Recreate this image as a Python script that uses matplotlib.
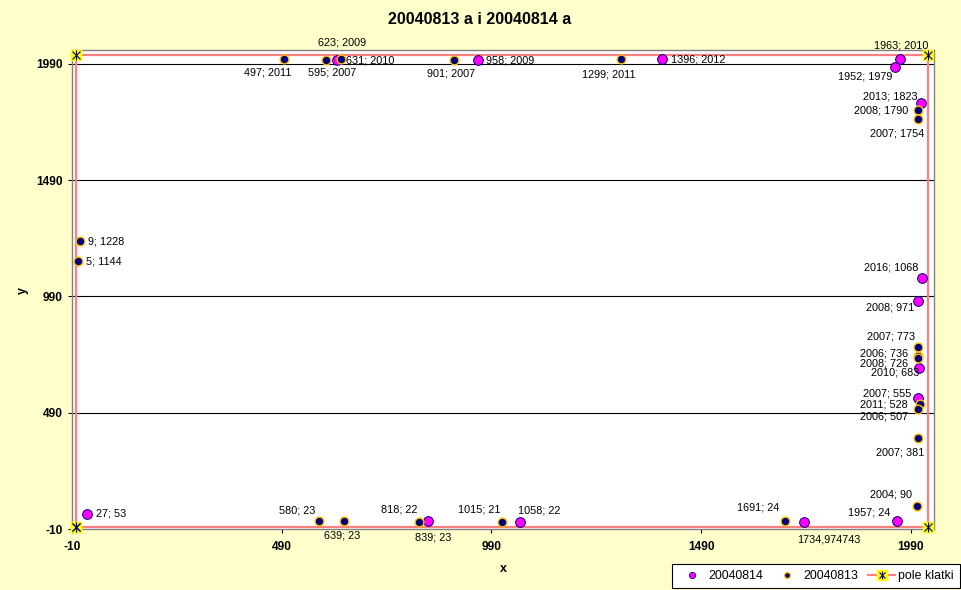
import matplotlib
matplotlib.use("Agg")
import matplotlib.pyplot as plt
from matplotlib.lines import Line2D
from matplotlib.legend_handler import HandlerTuple

plt.rcParams['font.family'] = ['Liberation Sans', 'DejaVu Sans']

# ---------------- data ----------------
title = "20040813 a i 20040814 a"

s14_x = [27, 623, 958, 1396, 1963, 1952, 2013, 2016, 2008, 2010, 2007, 1957, 1734.974743, 1058, 839]
s14_y = [53, 2009, 2009, 2012, 2010, 1979, 1823, 1068, 971, 683, 555, 24, 22, 22, 23]
s14_lbl = ["27; 53", "623; 2009", "958; 2009", "1396; 2012", "1963; 2010", "1952; 1979",
           "2013; 1823", "2016; 1068", "2008; 971", "2010; 683", "2007; 555", "1957; 24",
           "1734,974743", "1058; 22", "839; 23"]
# label offsets (pixels: right, down)
s14_off = [(9, -1), (-19, -17), (8, 1), (9, 1), (-26, -14), (-57, 10),
           (-58, -6), (-58, -11), (-52, 7), (-48, 5), (-55, -4), (-49, -9),
           (-7, 18), (-2, -11), (-13, 16)]

s13_x = [497, 595, 631, 901, 1299, 2008, 2007, 9, 5, 2007, 2006, 2008, 2011, 2006, 2007, 2004,
         580, 639, 818, 1015, 1691]
s13_y = [2011, 2007, 2010, 2007, 2011, 1790, 1754, 1228, 1144, 773, 736, 726, 528, 507, 381, 90,
         23, 23, 22, 21, 24]
s13_lbl = ["497; 2011", "595; 2007", "631; 2010", "901; 2007", "1299; 2011", "2008; 1790",
           "2007; 1754", "9; 1228", "5; 1144", "2007; 773", "2006; 736", "2008; 726",
           "2011; 528", "2006; 507", "2007; 381", "2004; 90", "580; 23", "639; 23",
           "818; 22", "1015; 21", "1691; 24"]
s13_off = [(-40, 13), (-18, 13), (5, 1), (-27, 14), (-39, 15), (-64, 0),
           (-48, 15), (8, 0), (8, 1), (-51, -10), (-58, -2), (-58, 6),
           (-60, 1), (-58, 8), (-42, 14), (-47, -11), (-40, -11), (-20, 14),
           (-38, -12), (-44, -12), (-48, -14)]

frame_x = [0, 0, 2030, 2030, 0]
frame_y = [0, 2030, 2030, 0, 0]

xticks = [-10, 490, 990, 1490, 1990]
yticks = [-10, 490, 990, 1490, 1990]

# ---------------- style ----------------
BG = "#FFFFCC"
MAG = "#FF00FF"
NAVY = "#000080"
ORANGE = "#FFC000"
PINK = "#FF8080"

fig = plt.figure(figsize=(9.61, 5.90), dpi=100, facecolor=BG)
ax = fig.add_axes([71.7 / 961, 61 / 590, (934 - 71.7) / 961, (529 - 50) / 590])
ax.set_facecolor("white")
ax.set_xlim(-10, 2045)
ax.set_ylim(-10, 2050)

ax.set_xticks(xticks)
ax.set_yticks(yticks)
ax.set_xticklabels([str(v) for v in xticks], fontsize=8.6, fontweight='bold')
ax.set_yticklabels([str(v) for v in yticks], fontsize=8.6, fontweight='bold')
ax.tick_params(axis='x', length=3, width=0.8, pad=6, direction='out', color='black')
ax.tick_params(axis='y', length=3, width=0.8, pad=3.5, direction='out', color='black')
for sp in ax.spines.values():
    sp.set_color("#808080")
    sp.set_linewidth(1)

for v in yticks[1:]:
    ax.axhline(v, color='black', lw=0.8, zorder=1)

# frame (pole klatki)
ax.plot(frame_x, frame_y, color=PINK, lw=1.6, zorder=2, clip_on=False)
ax.plot(frame_x, frame_y, ls='none', marker='s', ms=7.5, mfc='#FFFF00', mec='#FFFF00',
        zorder=5, clip_on=False)
ax.plot(frame_x, frame_y, ls='none', marker='x', ms=5.5, mec=NAVY, mew=0.8, zorder=6, clip_on=False)
ax.plot(frame_x, frame_y, ls='none', marker='|', ms=6.5, mec=NAVY, mew=0.8, zorder=6, clip_on=False)

# series
ax.plot(s14_x, s14_y, ls='none', marker='o', ms=7, mfc=MAG, mec=NAVY, mew=0.7, zorder=3, clip_on=False)
ax.plot(s13_x, s13_y, ls='none', marker='o', ms=6.3, mfc=NAVY, mec=ORANGE, mew=1.0, zorder=4, clip_on=False)

def put_labels(xs, ys, lbls, offs):
    for x, y, t, (dx, dy) in zip(xs, ys, lbls, offs):
        ax.annotate(t, (x, y), xytext=(dx * 0.72, -dy * 0.72), textcoords='offset points',
                    ha='left', va='center', fontsize=7.8, color='black', zorder=7,
                    annotation_clip=False)

put_labels(s14_x, s14_y, s14_lbl, s14_off)
put_labels(s13_x, s13_y, s13_lbl, s13_off)

fig.text(479.5 / 961, 1 - 20 / 590, title, ha='center', va='center', fontsize=11.5, fontweight='bold')
fig.text(503 / 961, 1 - 569 / 590, "x", ha='center', va='center', fontsize=9, fontweight='bold')
fig.text(23 / 961, 1 - 290 / 590, "y", ha='center', va='center', fontsize=9, fontweight='bold', rotation=90)

# legend
h14 = Line2D([], [], ls='none', marker='o', ms=4.5, mfc=MAG, mec=NAVY, mew=0.6)
h13 = Line2D([], [], ls='none', marker='o', ms=4.2, mfc=NAVY, mec=ORANGE, mew=0.9)
hf1 = Line2D([], [], color=PINK, lw=1.6, marker='s', ms=7, mfc='#FFFF00', mec='#FFFF00')
hf2 = Line2D([], [], ls='none', marker='x', ms=5, mec=NAVY, mew=0.8)
hf3 = Line2D([], [], ls='none', marker='|', ms=6, mec=NAVY, mew=0.8)
leg = fig.legend([h14, h13, (hf1, hf2, hf3)], ["20040814", "20040813", "pole klatki"],
                 loc='center', bbox_to_anchor=(816 / 961, 1 - 576 / 590), ncol=3,
                 fontsize=8.9, frameon=True, fancybox=False, edgecolor='black',
                 framealpha=1, handlelength=2.2, handletextpad=0.25, columnspacing=0.8,
                 borderpad=0.5, borderaxespad=0,
                 handler_map={tuple: HandlerTuple(ndivide=1, pad=0)})
leg.get_frame().set_linewidth(0.8)

fig.savefig("out.png", dpi=100, facecolor=BG)
